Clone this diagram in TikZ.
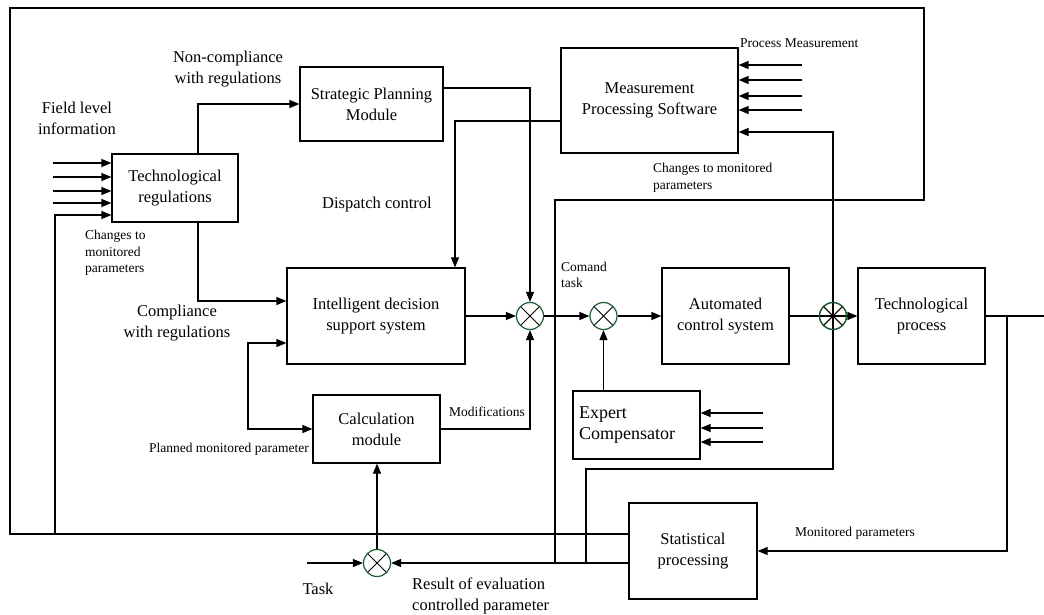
\documentclass[tikz,border=0pt]{standalone}
\usepackage{fontspec}
\setmainfont{Liberation Serif}
\usetikzlibrary{arrows.meta,calc}
\definecolor{sumgreen}{HTML}{1E5B30}
\newcommand\lgfont{\fontsize{16.5}{21}\selectfont}
\newcommand\smfont{\fontsize{13.5}{16.5}\selectfont}
\newcommand\exfont{\fontsize{18}{21}\selectfont}
\tikzset{
  ln/.style={line width=1.2pt},
  arr/.style={ln,-{Triangle[length=10pt,width=8pt]}},
  darr/.style={ln,{Triangle[length=10pt,width=8pt]}-{Triangle[length=10pt,width=8pt]}},
  blk/.style={draw,line width=1.2pt,align=center,inner sep=2pt,font=\lgfont},
  sumnode/.style={circle,draw=sumgreen,line width=1.2pt,minimum size=27pt,inner sep=0pt,
    path picture={\draw[black,line width=0.8pt]
      (path picture bounding box.north west) -- (path picture bounding box.south east)
      (path picture bounding box.north east) -- (path picture bounding box.south west);}},
  lbl/.style={inner sep=0pt,font=\lgfont,align=center},
  slbl/.style={inner sep=0pt,font=\smfont,align=left},
}
\begin{document}
\begin{tikzpicture}[x=1pt,y=-1pt]
\useasboundingbox (0,0) rectangle (1044,615);

% blocks
\node[blk,minimum width=126pt,minimum height=68pt] (treg) at (175,188) {Technological\\regulations};
\node[blk,minimum width=143pt,minimum height=74pt] (spm) at (371.5,104) {Strategic Planning\\Module};
\node[blk,minimum width=177pt,minimum height=105pt] (mps) at (649.5,100.5) {Measurement\\Processing Software};
\node[blk,minimum width=178pt,minimum height=96pt] (idss) at (376,316) {Intelligent decision\\support system};
\node[blk,minimum width=127pt,minimum height=68pt] (calc) at (376.5,429) {Calculation\\module};
\node[blk,minimum width=127pt,minimum height=96pt] (acs) at (725.5,316) {Automated\\control system};
\node[blk,minimum width=127pt,minimum height=96pt] (tp) at (921.5,316) {Technological\\process};
\node[blk,minimum width=127pt,minimum height=68pt,align=left,font=\exfont,text width=115pt] (exp) at (636.5,425) {Expert\\Compensator};
\node[blk,minimum width=128pt,minimum height=96pt] (stat) at (693,551) {Statistical\\processing};

% summing junctions
\node[sumnode] (s1) at (530,316) {};
\node[sumnode] (s2) at (603.5,316) {};
\node[sumnode] (s3) at (377,563) {};
\node[sumnode] (s4) at (833,316) {};

% free ends / bends
\coordinate (fl1) at (53,163);
\coordinate (fl2) at (53,177);
\coordinate (fl3) at (53,191);
\coordinate (fl4) at (53,203);
\coordinate (pm1) at (802,65);
\coordinate (pm2) at (802,80);
\coordinate (pm3) at (802,96);
\coordinate (pm4) at (802,110);
\coordinate (ec1) at (763,413);
\coordinate (ec2) at (763,428);
\coordinate (ec3) at (763,442);
\coordinate (taskin) at (307,563);
\coordinate (loopL) at (248,386);
\coordinate (outR) at (1044,316);
\coordinate (brR) at (1007,316);
\coordinate (fbA) at (10,534);
\coordinate (fbB) at (10,8);
\coordinate (fbC) at (924,8);
\coordinate (fbD) at (924,200);
\coordinate (fbE) at (555,200);
\coordinate (fbF) at (555,563);
\coordinate (fbG) at (55,534);
\coordinate (cmA) at (586,563);
\coordinate (cmB) at (833,469);

% field level inputs
\foreach \c/\s in {fl1/25,fl2/11,fl3/-3,fl4/-15}
  \draw[arr] (\c) -- (\c -| treg.west);
% process measurement inputs
\foreach \c in {pm1,pm2,pm3,pm4}
  \draw[arr] (\c) -- (\c -| mps.east);
% expert inputs
\foreach \c in {ec1,ec2,ec3}
  \draw[arr] (\c) -- (\c -| exp.east);

% tech regs outputs
\draw[arr] ([xshift=23pt]treg.north) |- (spm.west);
\draw[arr] ([xshift=23pt]treg.south) |- ([yshift=15pt]idss.west);
% strategic planning to s1
\draw[arr] ([yshift=16pt]spm.east) -| (s1.north);
% measurement software to idss
\draw[arr] ([yshift=-20.5pt]mps.west) -| ([xshift=79pt]idss.north);
% calc loop
\draw[darr] ([yshift=-27pt]idss.west) -| (loopL) |- (calc.west);
% main chain
\draw[arr] (idss.east) -- (s1.west);
\draw[arr] (calc.east) -| (s1.south);
\draw[arr] (s1.east) -- (s2.west);
\draw[arr] (s2.south |- exp.north) -- (s2.south);
\draw[arr] (s2.east) -- (acs.west);
\draw[ln] (acs.east) -- (s4.east);
\draw[arr] (s4.east) -- (tp.west);
\draw[ln] (tp.east) -- (outR);
\draw[arr] (brR) |- (stat.east);
% statistical outputs
\draw[arr] ([yshift=-12pt]stat.west) -- (s3.east);
\draw[arr] (taskin) -- (s3.west);
\draw[arr] (s3.north) -- (s3.north |- calc.south);
\draw[ln] ([yshift=17pt]stat.west) -- (fbA) -- (fbB) -- (fbC) -- (fbD) -- (fbE) -- (fbF);
\draw[arr] (fbG) |- ([yshift=-27pt]treg.west);
\draw[arr] (cmA) |- (cmB) |- ([yshift=-31.5pt]mps.east);

% redraw s4 on top
\node[sumnode] at (s4) {};

% labels
\node[lbl] at (77,118) {Field level\\information};
\node[lbl] at (228,69) {Non-compliance\\with regulations};
\node[slbl,anchor=west] at (85,253) {Changes to\\monitored\\parameters};
\node[lbl] at (177,323) {Compliance\\with regulations};
\node[lbl] at (377,205) {Dispatch control};
\node[slbl,anchor=east] at (309,449) {Planned monitored parameter};
\node[slbl] at (487,412) {Modifications};
\node[slbl,anchor=west] at (740,43) {Process Measurement};
\node[slbl,anchor=west] at (653,178) {Changes to monitored\\parameters};
\node[slbl,anchor=west] at (561,275) {Comand\\task};
\node[slbl] at (855,533) {Monitored parameters};
\node[lbl] at (318,589) {Task};
\node[lbl,anchor=west,align=left] at (412,596) {Result of evaluation\\controlled parameter};
\end{tikzpicture}
\end{document}
